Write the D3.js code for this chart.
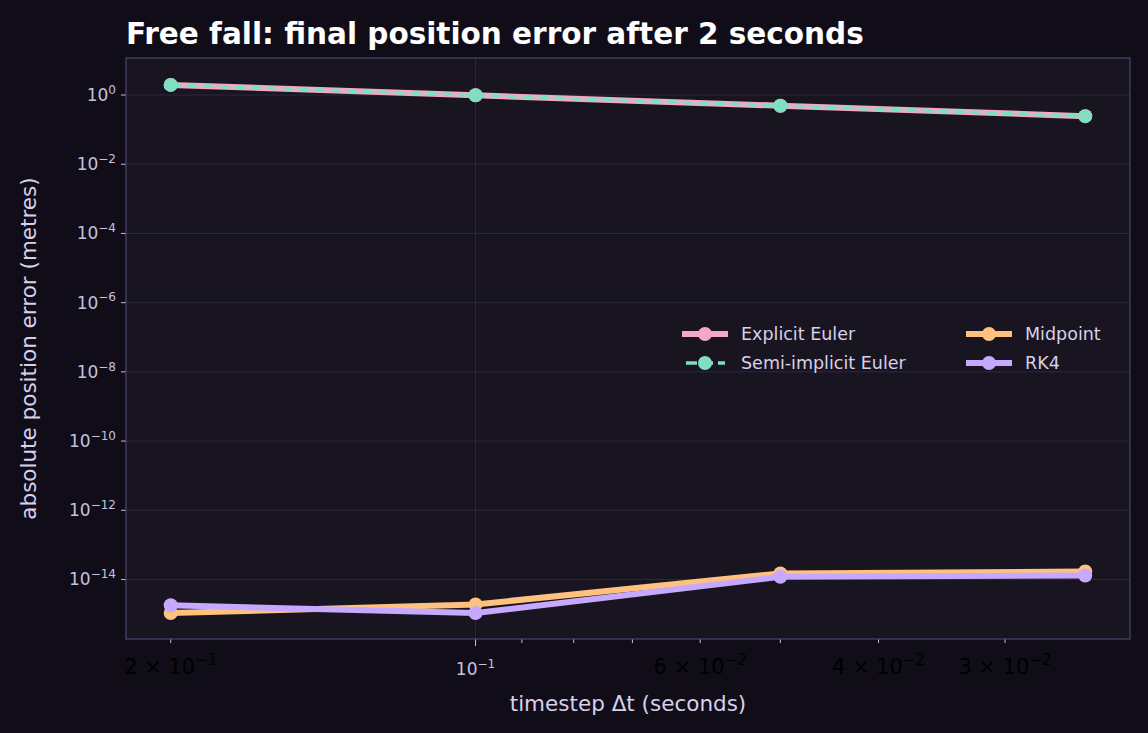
<!DOCTYPE html>
<html><head><meta charset="utf-8">
<script src="https://cdn.jsdelivr.net/npm/d3@7"></script>
<style>body{margin:0;background:#100d19;}svg{font-family:"DejaVu Sans",sans-serif;}</style>
</head><body><div id="chart"></div>
<script>
const timesteps = [0.2, 0.1, 0.05, 0.025];
const explicitEuler = [1.962, 0.981, 0.4905, 0.24525];
const semiImplicitEuler = [1.962, 0.981, 0.4905, 0.24525];
const midpoint = [1.07e-15, 1.9e-15, 1.5e-14, 1.7e-14];
const rk4 = [1.8e-15, 1.07e-15, 1.2e-14, 1.3e-14];
const yTicks = [0, -2, -4, -6, -8, -10, -12, -14];
const xMajor = [0.1];
const xMinorLabelled = [0.2, 0.06, 0.04, 0.03];
const xMinorLabels = ["2", "6", "4", "3"];
const xMinorExp = ["−1", "−2", "−2", "−2"];
const xMinor = [0.2, 0.09, 0.08, 0.07, 0.06, 0.05, 0.04, 0.03];

const series = [
  { name: "Explicit Euler", values: explicitEuler, color: "#f4a7c6", width: 6, dash: null },
  { name: "Semi-implicit Euler", values: semiImplicitEuler, color: "#7fdfc0", width: 3.5, dash: "11,5" },
  { name: "Midpoint", values: midpoint, color: "#ffc17e", width: 6, dash: null },
  { name: "RK4", values: rk4, color: "#c6a8ff", width: 6, dash: null }
];

const W = 1148, H = 733;
const m = { top: 58, right: 18, bottom: 94, left: 126 };
const w = W - m.left - m.right, h = H - m.top - m.bottom;

const svg = d3.select("#chart").append("svg").attr("width", W).attr("height", H);
svg.append("rect").attr("width", W).attr("height", H).attr("fill", "#100d19");
const g = svg.append("g").attr("transform", `translate(${m.left},${m.top})`);

const x = d3.scaleLog().domain([0.2214, 0.02258]).range([0, w]);
const y = d3.scaleLog().domain([Math.pow(10, -15.72), Math.pow(10, 1.07)]).range([h, 0]);

g.append("rect").attr("width", w).attr("height", h).attr("fill", "#181520");

// grid
g.selectAll(".gy").data(yTicks).join("line")
  .attr("x1", 0).attr("x2", w)
  .attr("y1", d => y(Math.pow(10, d))).attr("y2", d => y(Math.pow(10, d)))
  .attr("stroke", "#2d2842").attr("stroke-width", 1);
g.selectAll(".gx").data(xMajor).join("line")
  .attr("x1", d => x(d)).attr("x2", d => x(d)).attr("y1", 0).attr("y2", h)
  .attr("stroke", "#2d2842").attr("stroke-width", 1);

// y ticks
const yt = g.selectAll(".yt").data(yTicks).join("g")
  .attr("transform", d => `translate(0,${y(Math.pow(10, d))})`);
yt.append("line").attr("x1", -5).attr("x2", 0).attr("stroke", "#c8c0dc");
const ytx = yt.append("text").attr("x", -10).attr("dy", "0.35em").attr("text-anchor", "end")
  .attr("fill", "#c8c0dc").attr("font-size", 17);
ytx.append("tspan").text("10");
ytx.append("tspan").attr("dy", "-0.6em").attr("font-size", 12).text(d => d === 0 ? "0" : "−" + (-d));

// x ticks
xMinor.forEach(v => g.append("line").attr("x1", x(v)).attr("x2", x(v)).attr("y1", h).attr("y2", h + 4).attr("stroke", "#c8c0dc"));
xMajor.forEach(v => {
  g.append("line").attr("x1", x(v)).attr("x2", x(v)).attr("y1", h).attr("y2", h + 7).attr("stroke", "#c8c0dc");
  const t = g.append("text").attr("x", x(v)).attr("y", h + 36).attr("text-anchor", "middle")
    .attr("fill", "#c8c0dc").attr("font-size", 17);
  t.append("tspan").text("10");
  t.append("tspan").attr("dy", "-0.6em").attr("font-size", 12).text("−1");
});
xMinorLabelled.forEach((v, i) => {
  const t = g.append("text").attr("x", x(v)).attr("y", h + 35).attr("text-anchor", "middle")
    .attr("fill", "#000000").attr("font-size", 21);
  t.append("tspan").text(xMinorLabels[i] + " × 10");
  t.append("tspan").attr("dy", "-0.6em").attr("font-size", 15).text(xMinorExp[i]);
});

g.append("rect").attr("width", w).attr("height", h).attr("fill", "none").attr("stroke", "#4c4470").attr("stroke-width", 1.2);

// lines
const line = d3.line().x((d, i) => x(timesteps[i])).y(d => y(d));
series.forEach(s => {
  g.append("path").datum(s.values).attr("d", line).attr("fill", "none")
    .attr("stroke", s.color).attr("stroke-width", s.width).attr("stroke-dasharray", s.dash)
    .attr("stroke-linejoin", "round");
  g.selectAll(null).data(s.values).join("circle")
    .attr("cx", (d, i) => x(timesteps[i])).attr("cy", d => y(d)).attr("r", 7).attr("fill", s.color);
});

// legend
const legPos = [[682, 334], [682, 363], [966, 334], [966, 363]];
series.forEach((s, i) => {
  const lg = svg.append("g").attr("transform", `translate(${legPos[i][0]},${legPos[i][1]})`);
  lg.append("line").attr("x1", s.dash ? 4 : 0).attr("x2", s.dash ? 43 : 46).attr("stroke", s.color)
    .attr("stroke-width", s.width).attr("stroke-dasharray", s.dash);
  lg.append("circle").attr("cx", 23).attr("r", 7).attr("fill", s.color);
  lg.append("text").attr("x", 59).attr("dy", "0.35em").attr("fill", "#d8d0ea").attr("font-size", 17.5).text(s.name);
});

svg.append("text").attr("x", 126).attr("y", 44).attr("fill", "#ffffff").attr("font-size", 29.5)
  .attr("font-weight", "bold").text("Free fall: final position error after 2 seconds");
svg.append("text").attr("x", m.left + w / 2).attr("y", 711).attr("text-anchor", "middle")
  .attr("fill", "#d8d0ea").attr("font-size", 21.5).text("timestep Δt (seconds)");
svg.append("text").attr("transform", `translate(36,${m.top + h / 2}) rotate(-90)`).attr("text-anchor", "middle")
  .attr("fill", "#d8d0ea").attr("font-size", 21.5).text("absolute position error (metres)");
</script></body></html>
